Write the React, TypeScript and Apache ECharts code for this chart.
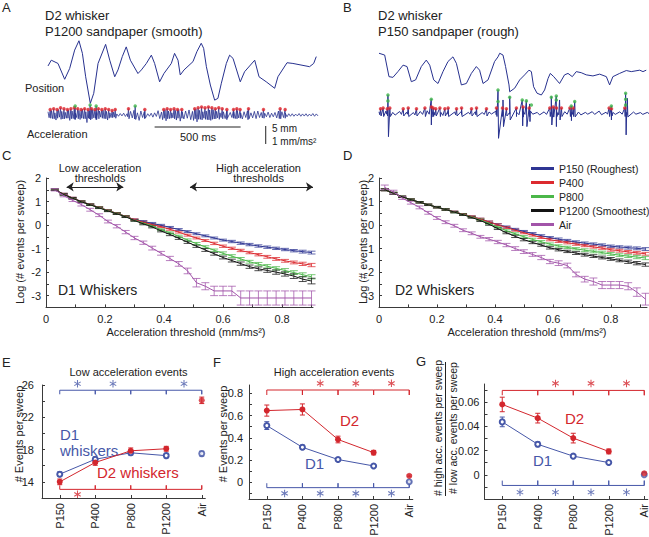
import React, { useEffect, useRef } from 'react';
import * as echarts from 'echarts';

const FONT = '"Liberation Sans", Arial, Helvetica, sans-serif';
const INK = '#222222';
const AXIS = '#3a3a3a';
const TRACE = '#27318f';
const EV_LOW = '#e1262c';
const EV_HIGH = '#3fb54a';
const C_D1 = '#4657a8';
const C_D2 = '#d3262d';

// ---------- Panel A (P1200, smooth) : position [ms, mm] ----------
const posA = [[0,10.4],[19,12.0],[58,11.1],[97,6.7],[126,9.7],[155,14.8],[180,17.4],[200,13.9],[219,7.4],[246,0],[266,2.8],[291,11.1],[335,16.4],[359,12.0],[388,7.4],[407,9.3],[432,13.0],[455,15.7],[479,12.0],[523,8.3],[543,9.3],[572,11.1],[601,13.4],[620,11.1],[649,6.0],[674,8.3],[717,11.1],[736,13.9],[756,12.0],[769,7.9],[791,9.3],[843,11.6],[866,14.4],[891,16.7],[905,15.3],[921,10.2],[944,5.1],[969,0.9],[988,1.4],[1008,5.6],[1037,11.1],[1056,13.4],[1076,12.5],[1118,6.0],[1143,8.8],[1202,12.0],[1227,7.4],[1269,6.0],[1318,4.2],[1337,7.4],[1390,11.3],[1424,11.1],[1521,10.2],[1545,11.1],[1560,13.0]];
// acceleration (mm/ms^2), one sample each 20 ms
const accAUp = [0.18,0.25,0.12,0.3,0.2,0.15,0.28,0.22,0.1,0.26,0.32,0.18,0.24,0.3,0.14,0.22,0.27,0.2,0.12,0.16,0.06,0.08,0.1,0.07,0.2,0.26,0.12,0.22,0.18,0.07,0.1,0.12,0.24,0.16,0.3,0.22,0.12,0.26,0.3,0.18,0.22,0.28,0.2,0.34,0.26,0.18,0.22,0.28,0.3,0.2,0.12,0.18,0.24,0.14,0.2,0.25,0.12,0.18,0.24,0.12,0.2,0.22,0.14,0.1,0.16,0.1,0.14,0.22,0.18,0.1,0.07,0.07,0.05,0.08,0.06,0.07,0.05,0.08,0.06];
const accADown = [-0.15,-0.2,-0.28,-0.12,-0.22,-0.18,-0.3,-0.2,-0.14,-0.25,-0.2,-0.42,-0.22,-0.16,-0.26,-0.12,-0.2,-0.28,-0.14,-0.12,-0.07,-0.05,-0.08,-0.1,-0.16,-0.22,-0.3,-0.14,-0.2,-0.07,-0.12,-0.08,-0.2,-0.26,-0.32,-0.2,-0.16,-0.28,-0.34,-0.22,-0.18,-0.26,-0.3,-0.38,-0.24,-0.18,-0.26,-0.3,-0.22,-0.16,-0.14,-0.2,-0.26,-0.14,-0.2,-0.16,-0.22,-0.14,-0.26,-0.16,-0.2,-0.14,-0.16,-0.1,-0.14,-0.1,-0.16,-0.2,-0.14,-0.1,-0.07,-0.07,-0.05,-0.07,-0.06,-0.07,-0.05,-0.07,-0.05];
const lowEventsA = [[10,0.3],[30,0.35],[50,0.3],[70,0.4],[90,0.35],[110,0.3],[130,0.35],[150,0.4],[170,0.35],[190,0.3],[210,0.35],[230,0.3],[250,0.35],[270,0.3],[290,0.35],[310,0.3],[330,0.35],[350,0.3],[370,0.25],[388,0.3],[465,0.35],[560,0.3],[670,0.3],[690,0.35],[710,0.3],[730,0.35],[750,0.3],[775,0.3],[850,0.35],[870,0.4],[890,0.45],[910,0.4],[930,0.45],[950,0.4],[970,0.35],[990,0.4],[1010,0.35],[1037,0.3],[1076,0.3],[1095,0.35],[1114,0.3],[1163,0.35],[1250,0.3],[1347,0.35],[1376,0.3]];
const highEventsA = [[155,0.5],[242,0.55],[277,0.5],[504,0.5]];

// ---------- Panel B (P150, rough) ----------
const posB = [[0,11.6],[33,11.1],[58,5.1],[81,4.9],[110,6.5],[140,8.3],[163,7.9],[188,3.7],[213,4.2],[246,7.9],[275,9.7],[295,8.3],[318,4.2],[343,3.2],[372,6.5],[401,9.3],[430,10.6],[450,8.8],[479,2.8],[508,3.2],[537,6.0],[566,7.9],[585,6.9],[605,3.2],[634,4.2],[672,9.3],[692,10.6],[702,11.6],[721,11.1],[736,7.9],[756,2.8],[760,0.9],[789,1.9],[818,4.2],[847,5.6],[872,6.9],[886,6.5],[899,2.3],[919,0.5],[944,0],[963,1.4],[983,4.6],[996,6.0],[1016,5.1],[1050,3.2],[1079,5.6],[1099,6.0],[1124,5.1],[1147,6.5],[1176,6.2],[1205,5.6],[1244,5.3],[1283,5.8],[1322,5.1],[1341,2.8],[1360,5.1],[1399,6.0],[1438,6.8],[1467,6.5],[1516,6.9],[1535,6.5],[1554,6.9]];
// background noise, one sample each 40 ms
const accBUp = [0.08,0.12,0.05,0.1,0.06,0.04,0.1,0.14,0.06,0.05,0.1,0.07,0.12,0.05,0.09,0.04,0.07,0.12,0.08,0.05,0.06,0.1,0.13,0.05,0.08,0.06,0.04,0.09,0.05,0.07,0.05,0.09,0.12,0.06,0.05,0.08,0.05,0.07,0.04,0.05];
const accBDown = [-0.08,-0.05,-0.1,-0.06,-0.05,-0.09,-0.06,-0.05,-0.1,-0.12,-0.05,-0.08,-0.06,-0.05,-0.09,-0.06,-0.04,-0.08,-0.12,-0.05,-0.08,-0.06,-0.05,-0.09,-0.06,-0.05,-0.08,-0.05,-0.06,-0.09,-0.05,-0.06,-0.08,-0.05,-0.06,-0.05,-0.08,-0.05,-0.06,-0.04];
const spikeBTime = [52,304,692,721,760,833,857,876,1002,1031,1050,1118,1138,1351,1434,1444];
const spikeBUp = [1.02,0.8,1.3,0.74,0.93,0.74,0.7,0.52,0.93,0.96,0.74,0.41,0.65,0.41,1.11,0.83];
const spikeBDown = [-1.3,-0.65,-1.39,-0.74,-0.37,-0.7,-0.74,-0.46,-0.65,-0.74,-0.37,-0.41,-0.2,-0.37,-1.2,-0.2];
const lowEventsB = [[8,0.25],[23,0.3],[47,0.25],[62,0.3],[140,0.25],[169,0.3],[217,0.25],[266,0.3],[304,0.35],[314,0.3],[329,0.25],[353,0.3],[382,0.25],[401,0.3],[450,0.25],[479,0.3],[537,0.25],[566,0.3],[624,0.25],[682,0.3],[717,0.3],[740,0.25],[798,0.3],[837,0.35],[872,0.3],[992,0.3],[1012,0.35],[1031,0.3],[1060,0.3],[1109,0.3],[1128,0.3],[1337,0.3],[1351,0.25],[1428,0.3]];
const highEventsB = [[52,1.02],[52,0.69],[304,0.78],[692,1.3],[692,0.65],[760,0.89],[833,0.74],[857,0.69],[886,0.46],[1002,0.89],[1031,0.96],[1031,0.74],[1118,0.41],[1138,0.65],[1351,0.41],[1434,1.11],[1434,0.78],[1434,0.46]];

// ---------- Panels C / D ----------
const CURVES = ['P150 (Roughest)', 'P400', 'P800', 'P1200 (Smoothest)', 'Air'];
const CURVE_COLORS = ['#2e3593', '#dc2a2f', '#4bb749', '#141414', '#a254a9'];

const threshC = [0.03,0.06,0.09,0.12,0.15,0.18,0.21,0.24,0.27,0.30,0.33,0.36,0.39,0.42,0.45,0.48,0.51,0.54,0.57,0.60,0.63,0.66,0.69,0.72,0.75,0.78,0.81,0.84,0.87,0.90];
const logC_P150 = [1.5,1.32,1.15,1.0,0.87,0.75,0.62,0.5,0.37,0.23,0.15,0.07,-0.01,-0.1,-0.19,-0.28,-0.37,-0.46,-0.55,-0.64,-0.7,-0.77,-0.83,-0.89,-0.94,-0.99,-1.04,-1.09,-1.13,-1.17];
const logC_P400 = [1.5,1.32,1.15,1.0,0.87,0.75,0.62,0.5,0.37,0.23,0.12,0.02,-0.07,-0.18,-0.3,-0.43,-0.55,-0.66,-0.78,-0.9,-0.99,-1.08,-1.17,-1.26,-1.35,-1.44,-1.52,-1.59,-1.65,-1.7];
const logC_P800 = [1.5,1.3,1.14,0.99,0.86,0.74,0.61,0.49,0.36,0.2,0.08,-0.04,-0.2,-0.33,-0.48,-0.64,-0.79,-0.93,-1.07,-1.2,-1.32,-1.44,-1.56,-1.66,-1.75,-1.84,-1.93,-2.02,-2.11,-2.2];
const logC_P1200 = [1.5,1.3,1.14,0.99,0.86,0.73,0.6,0.48,0.35,0.19,0.05,-0.08,-0.25,-0.4,-0.56,-0.73,-0.9,-1.06,-1.22,-1.38,-1.51,-1.64,-1.77,-1.86,-1.93,-2.0,-2.08,-2.17,-2.3,-2.38];
const logC_Air = [1.5,1.25,1.05,0.87,0.65,0.42,0.15,-0.05,-0.3,-0.55,-0.75,-0.98,-1.2,-1.42,-1.65,-1.95,-2.45,-2.6,-2.8,-2.8,-2.8,-3.1,-3.1,-3.1,-3.1,-3.1,-3.1,-3.1,-3.1,-3.1];
const errC_P150 = [0.03,0.03,0.03,0.03,0.03,0.03,0.03,0.03,0.03,0.03,0.04,0.04,0.04,0.04,0.04,0.04,0.04,0.04,0.04,0.04,0.05,0.05,0.05,0.05,0.05,0.05,0.05,0.05,0.06,0.06];
const errC_P400 = [0.03,0.03,0.03,0.03,0.03,0.03,0.03,0.03,0.03,0.03,0.04,0.04,0.04,0.04,0.04,0.04,0.04,0.04,0.05,0.05,0.05,0.05,0.05,0.05,0.06,0.06,0.06,0.06,0.07,0.07];
const errC_P800 = [0.03,0.03,0.03,0.03,0.03,0.03,0.03,0.03,0.03,0.03,0.04,0.04,0.04,0.04,0.05,0.05,0.05,0.05,0.05,0.06,0.06,0.06,0.06,0.07,0.07,0.07,0.08,0.08,0.08,0.09];
const errC_P1200 = [0.03,0.03,0.03,0.03,0.03,0.03,0.03,0.03,0.03,0.03,0.04,0.04,0.04,0.05,0.05,0.05,0.05,0.06,0.06,0.06,0.06,0.07,0.07,0.08,0.08,0.09,0.09,0.1,0.1,0.12];
const errC_Air = [0.05,0.05,0.05,0.06,0.06,0.06,0.06,0.07,0.07,0.07,0.07,0.08,0.08,0.09,0.1,0.12,0.18,0.15,0.2,0.2,0.2,0.3,0.3,0.3,0.3,0.3,0.3,0.3,0.3,0.3];

const threshD = [0.02,0.05,0.08,0.11,0.14,0.17,0.20,0.23,0.26,0.29,0.32,0.35,0.38,0.41,0.44,0.47,0.50,0.53,0.56,0.59,0.62,0.65,0.68,0.71,0.74,0.77,0.80,0.83,0.86,0.89,0.92];
const logD_P150 = [1.5,1.35,1.2,1.08,0.97,0.86,0.76,0.66,0.56,0.46,0.36,0.25,0.13,0.02,-0.08,-0.18,-0.27,-0.36,-0.45,-0.53,-0.6,-0.66,-0.72,-0.77,-0.81,-0.85,-0.9,-0.93,-0.96,-0.99,-1.02];
const logD_P400 = [1.5,1.35,1.2,1.08,0.97,0.86,0.76,0.66,0.56,0.46,0.36,0.25,0.13,0.01,-0.1,-0.22,-0.33,-0.43,-0.53,-0.62,-0.69,-0.75,-0.81,-0.87,-0.93,-0.98,-1.05,-1.09,-1.14,-1.18,-1.22];
const logD_P800 = [1.5,1.35,1.2,1.08,0.97,0.86,0.76,0.66,0.55,0.45,0.34,0.22,0.07,-0.09,-0.24,-0.37,-0.5,-0.61,-0.71,-0.81,-0.89,-0.95,-1.01,-1.07,-1.12,-1.17,-1.23,-1.28,-1.32,-1.36,-1.4];
const logD_P1200 = [1.5,1.35,1.2,1.08,0.97,0.86,0.76,0.66,0.55,0.44,0.32,0.19,0.03,-0.15,-0.33,-0.48,-0.62,-0.74,-0.85,-0.97,-1.05,-1.12,-1.19,-1.26,-1.32,-1.38,-1.44,-1.5,-1.56,-1.62,-1.68];
const logD_Air = [1.6,1.4,1.15,0.95,0.75,0.52,0.3,0.12,-0.03,-0.22,-0.35,-0.5,-0.6,-0.72,-0.85,-1.0,-1.13,-1.25,-1.38,-1.55,-1.62,-1.72,-2.1,-2.3,-2.4,-2.55,-2.55,-2.55,-2.6,-2.85,-3.15];
const errD_P150 = [0.04,0.04,0.03,0.03,0.03,0.03,0.03,0.03,0.03,0.03,0.03,0.04,0.04,0.04,0.04,0.04,0.04,0.04,0.04,0.04,0.05,0.05,0.05,0.05,0.05,0.05,0.05,0.05,0.06,0.06,0.06];
const errD_P400 = [0.04,0.04,0.03,0.03,0.03,0.03,0.03,0.03,0.03,0.03,0.03,0.04,0.04,0.04,0.04,0.04,0.04,0.04,0.04,0.05,0.05,0.05,0.05,0.05,0.05,0.05,0.06,0.06,0.06,0.06,0.06];
const errD_P800 = [0.04,0.04,0.03,0.03,0.03,0.03,0.03,0.03,0.03,0.03,0.03,0.04,0.04,0.04,0.04,0.04,0.05,0.05,0.05,0.05,0.05,0.05,0.05,0.06,0.06,0.06,0.06,0.06,0.06,0.07,0.07];
const errD_P1200 = [0.04,0.04,0.03,0.03,0.03,0.03,0.03,0.03,0.03,0.03,0.03,0.04,0.04,0.04,0.04,0.05,0.05,0.05,0.05,0.05,0.05,0.05,0.06,0.06,0.06,0.06,0.06,0.06,0.07,0.07,0.07];
const errD_Air = [0.1,0.08,0.06,0.06,0.06,0.06,0.06,0.06,0.06,0.06,0.06,0.06,0.07,0.07,0.07,0.08,0.08,0.08,0.09,0.09,0.1,0.1,0.1,0.12,0.15,0.15,0.15,0.15,0.15,0.18,0.25];

const TICKS_CD_X = [0,0.1,0.2,0.3,0.4,0.5,0.6,0.7,0.8,0.9];
const LABELS_CD_X = [0,0.2,0.4,0.6,0.8];
const TICKS_CD_Y = [-3.5,-3,-2.5,-2,-1.5,-1,-0.5,0,0.5,1,1.5,2];
const LABELS_CD_Y = [-3,-2,-1,0,1,2];

// ---------- Panels E / F / G ----------
const CATS = ['P150', 'P400', 'P800', 'P1200', 'Air'];
const CAT_POS = [1, 2, 3, 4, 5];
const E_D1 = [14.95, 16.8, 17.6, 17.25, 17.5];
const E_D1_err = [0.3, 0.3, 0.3, 0.3, 0.3];
const E_D2 = [14.0, 16.4, 17.85, 18.1, 24.1];
const E_D2_err = [0.35, 0.35, 0.35, 0.3, 0.4];
const F_D1 = [0.51, 0.315, 0.205, 0.147, 0.005];
const F_D1_err = [0.035, 0.02, 0.012, 0.008, 0.005];
const F_D2 = [0.645, 0.655, 0.385, 0.267, 0.058];
const F_D2_err = [0.05, 0.05, 0.03, 0.02, 0.008];
const G_D1 = [0.0437, 0.0252, 0.0154, 0.0101, 0.0001];
const G_D1_err = [0.004, 0.002, 0.001, 0.0006, 0.0004];
const G_D2 = [0.0581, 0.0468, 0.0303, 0.0193, 0.0012];
const G_D2_err = [0.006, 0.004, 0.004, 0.002, 0.001];
const E_topStars = [1.5, 2.5, 4.5];
const E_botStars = [1.5];
const F_topStars = [2.5, 3.5, 4.5];
const F_botStars = [1.5, 2.5, 3.5, 4.5];
const G_topStars = [2.5, 3.5, 4.5];
const G_botStars = [1.5, 2.5, 3.5, 4.5];

const STAR = 'path://M-0.7,-5L-0.7,5L0.7,5L0.7,-5Z M3.98,3.11L4.68,1.89L-3.98,-3.11L-4.68,-1.89Z M4.68,-1.89L3.98,-3.11L-4.68,1.89L-3.98,3.11Z';

function zigzag(events: { t: number; up: number; down: number; w: number }[]) {
  const ev = [...events].sort((a, b) => a.t - b.t);
  const out: number[][] = [];
  ev.forEach((e, i) => {
    const next = i < ev.length - 1 ? ev[i + 1].t : e.t + 2 * e.w;
    const dt = Math.min(e.w, (next - e.t) / 2);
    out.push([e.t, e.up]);
    out.push([e.t + dt, e.down]);
  });
  return out;
}

function errRender(cap: number, color: string, opacity: number) {
  return (params: any, api: any) => {
    const x = api.value(0), y = api.value(1), e = api.value(2);
    const p1 = api.coord([x, y + e]);
    const p2 = api.coord([x, y - e]);
    const st = { stroke: color, lineWidth: 1, opacity };
    return {
      type: 'group',
      children: [
        { type: 'line', shape: { x1: p1[0], y1: p1[1], x2: p2[0], y2: p2[1] }, style: st },
        { type: 'line', shape: { x1: p1[0] - cap, y1: p1[1], x2: p1[0] + cap, y2: p1[1] }, style: st },
        { type: 'line', shape: { x1: p2[0] - cap, y1: p2[1], x2: p2[0] + cap, y2: p2[1] }, style: st },
      ],
    };
  };
}

function errSeries(idx: number, xs: number[], ys: number[], es: number[], color: string, cap: number, opacity = 1) {
  return {
    type: 'custom', name: 'err', xAxisIndex: idx, yAxisIndex: idx, silent: true,
    data: xs.map((x, i) => [x, ys[i], es[i]]),
    encode: { x: 0, y: 1 },
    renderItem: errRender(cap, color, opacity),
    z: 2,
  };
}

function bracket(level: number, tick: number) {
  const pts: number[][] = [];
  CAT_POS.forEach((c, i) => {
    if (i > 0) pts.push([c, level]);
    pts.push([c, level + tick]);
    pts.push([c, level]);
  });
  return pts;
}

function hiddenAxes(idx: number, xmin: number, xmax: number, ymin: number, ymax: number) {
  return {
    x: { type: 'value', gridIndex: idx, min: xmin, max: xmax, show: false },
    y: { type: 'value', gridIndex: idx, min: ymin, max: ymax, show: false },
  };
}

function visAxis(idx: number, min: number, max: number, ticks: number[], labels: number[], fmt: (v: number) => string, margin: number, rotate = 0) {
  return {
    type: 'value', gridIndex: idx, min, max,
    axisLine: { show: true, onZero: false, lineStyle: { color: AXIS, width: 1 } },
    axisTick: { show: true, inside: true, length: 3, customValues: ticks, lineStyle: { color: AXIS, width: 1 } },
    axisLabel: { show: true, customValues: labels, formatter: fmt, margin, rotate, color: INK, fontSize: 11, fontFamily: FONT },
    splitLine: { show: false },
  };
}

function txt(text: string, x: number, y: number, size: number, opts: any = {}) {
  const align = opts.align || 'left';
  return {
    type: 'text', x, y, rotation: opts.rot || 0, silent: true,
    style: {
      text, fill: opts.color || INK, fontSize: size, fontFamily: FONT,
      align, verticalAlign: 'middle', textAlign: align, textVerticalAlign: 'middle',
    },
  };
}

function buildOption() {
  const grids = [
    { left: 48, top: 35, width: 270, height: 72 },
    { left: 48, top: 95, width: 270, height: 50 },
    { left: 379, top: 35, width: 270, height: 72 },
    { left: 379, top: 85, width: 270, height: 60 },
    { left: 46, top: 178, width: 267, height: 129.4 },
    { left: 379, top: 178, width: 268, height: 129.4 },
    { left: 42, top: 385, width: 163.3, height: 113 },
    { left: 249, top: 385, width: 163.8, height: 114 },
    { left: 484.5, top: 384, width: 163.3, height: 115 },
  ].map((g) => ({ ...g, containLabel: false, outerBoundsMode: 'none', show: false }));

  const hA = hiddenAxes(0, 0, 1570, -1, 19);
  const hAa = hiddenAxes(1, 0, 1570, -1.667, 1.111);
  const hB = hiddenAxes(2, 0, 1570, -3.33, 16.67);
  const hBa = hiddenAxes(3, 0, 1570, -1.761, 1.572);

  const fmt1 = (v: number) => (v === 0 ? '0' : String(+v.toFixed(3)));
  const fmtCat = (v: number) => CATS[Math.round(v) - 1] || '';

  const xAxes: any[] = [
    hA.x, hAa.x, hB.x, hBa.x,
    visAxis(4, 0, 0.905, TICKS_CD_X, LABELS_CD_X, fmt1, 6),
    visAxis(5, 0, 0.925, TICKS_CD_X, LABELS_CD_X, fmt1, 6),
    visAxis(6, 0.5, 5.1, CAT_POS, CAT_POS, fmtCat, 5, 90),
    visAxis(7, 0.5, 5.1, CAT_POS, CAT_POS, fmtCat, 5, 90),
    visAxis(8, 0.5, 5.1, CAT_POS, CAT_POS, fmtCat, 5, 90),
  ];
  const yAxes: any[] = [
    hA.y, hAa.y, hB.y, hBa.y,
    visAxis(4, -3.5, 2, TICKS_CD_Y, LABELS_CD_Y, fmt1, 5),
    visAxis(5, -3.5, 2, TICKS_CD_Y, LABELS_CD_Y, fmt1, 5),
    visAxis(6, 12, 26, [12, 14, 16, 18, 20, 22, 24, 26], [14, 18, 22, 26], fmt1, 8),
    visAxis(7, -0.15, 0.875, [-0.1, 0, 0.1, 0.2, 0.3, 0.4, 0.5, 0.6, 0.7, 0.8], [0, 0.2, 0.4, 0.6, 0.8], fmt1, 6),
    visAxis(8, -0.02, 0.075, [-0.01, 0, 0.01, 0.02, 0.03, 0.04, 0.05, 0.06, 0.07], [0, 0.02, 0.04, 0.06], fmt1, 5),
  ];

  const series: any[] = [];
  const lineS = (idx: number, data: number[][], color: string, width: number, extra: any = {}) => ({
    type: 'line', xAxisIndex: idx, yAxisIndex: idx, data, symbol: 'none', silent: true,
    lineStyle: { color, width }, itemStyle: { color }, ...extra,
  });
  const dotS = (idx: number, data: number[][], color: string, size: number) => ({
    type: 'scatter', xAxisIndex: idx, yAxisIndex: idx, data, symbol: 'circle', symbolSize: size, silent: true,
    itemStyle: { color }, z: 4, clip: false,
  });

  // Panel A
  series.push(lineS(0, posA, TRACE, 1));
  const evA = accAUp.map((u, i) => ({ t: i * 20, up: u, down: accADown[i], w: 10 }))
    .concat(lowEventsA.map(([t, a]) => ({ t: t + 3, up: a, down: -a * 0.6, w: 3 })))
    .concat(highEventsA.map(([t, a]) => ({ t: t + 3, up: a, down: -a * 0.5, w: 3 })));
  series.push(lineS(1, zigzag(evA), TRACE, 0.8, { clip: false }));
  series.push(dotS(1, lowEventsA.map(([t, a]) => [t + 3, a]), EV_LOW, 3.5));
  series.push(dotS(1, highEventsA.map(([t, a]) => [t + 3, a]), EV_HIGH, 3.5));
  series.push(lineS(1, [[620, -0.667], [1120, -0.667]], INK, 1, { clip: false }));
  series.push(lineS(1, [[1266, -0.611], [1266, -1.611]], INK, 1, { clip: false }));

  // Panel B
  series.push(lineS(2, posB, TRACE, 1));
  const evB = accBUp.map((u, i) => ({ t: i * 40, up: u, down: accBDown[i], w: 14 }))
    .concat(spikeBTime.map((t, i) => ({ t, up: spikeBUp[i], down: spikeBDown[i], w: 3 })))
    .concat(lowEventsB.map(([t, a]) => ({ t: t + 1, up: a, down: -a * 0.6, w: 3 })));
  series.push(lineS(3, zigzag(evB), TRACE, 1, { clip: false }));
  series.push(dotS(3, lowEventsB.map(([t, a]) => [t + 1, a]), EV_LOW, 3.5));
  series.push(dotS(3, highEventsB, EV_HIGH, 3.5));

  // Panels C and D
  const cVals = [logC_P150, logC_P400, logC_P800, logC_P1200, logC_Air];
  const cErr = [errC_P150, errC_P400, errC_P800, errC_P1200, errC_Air];
  const dVals = [logD_P150, logD_P400, logD_P800, logD_P1200, logD_Air];
  const dErr = [errD_P150, errD_P400, errD_P800, errD_P1200, errD_Air];
  CURVES.forEach((name, k) => {
    const col = CURVE_COLORS[k];
    const cs: any = lineS(4, threshC.map((x, i) => [x, cVals[k][i]]), col, 1, { name, z: 3 });
    if (k === 0) {
      cs.markLine = {
        silent: true, symbol: ['arrow', 'arrow'], symbolSize: 7,
        lineStyle: { color: INK, width: 1, type: 'solid' }, label: { show: false },
        data: [
          [{ coord: [0.07, 1.62] }, { coord: [0.262, 1.62] }],
          [{ coord: [0.488, 1.62] }, { coord: [0.905, 1.62] }],
        ],
      };
    }
    series.push(cs);
    series.push(errSeries(4, threshC, cVals[k], cErr[k], col, 4, 0.75));
    series.push(lineS(5, threshD.map((x, i) => [x, dVals[k][i]]), col, 1, { name, z: 3 }));
    series.push(errSeries(5, threshD, dVals[k], dErr[k], col, 4, 0.75));
  });

  // Panels E, F, G
  const panel = (idx: number, d1: number[], d1e: number[], d2: number[], d2e: number[],
    topColor: string, topLevel: number, topTick: number, topStars: number[], topStarY: number,
    botColor: string, botLevel: number, botTick: number, botStars: number[], botStarY: number) => {
    series.push(lineS(idx, bracket(topLevel, topTick), topColor, 1));
    series.push(lineS(idx, bracket(botLevel, botTick), botColor, 1));
    series.push({ type: 'scatter', xAxisIndex: idx, yAxisIndex: idx, data: topStars.map((x) => [x, topStarY]), symbol: STAR, symbolSize: [7, 7.5], itemStyle: { color: topColor }, clip: false, silent: true });
    series.push({ type: 'scatter', xAxisIndex: idx, yAxisIndex: idx, data: botStars.map((x) => [x, botStarY]), symbol: STAR, symbolSize: [7, 7.5], itemStyle: { color: botColor }, clip: false, silent: true });
    series.push(errSeries(idx, CAT_POS, d1, d1e, C_D1, 2.5));
    series.push(lineS(idx, CAT_POS.slice(0, 4).map((c, i) => [c, d1[i]]), C_D1, 1, { symbol: 'emptyCircle', symbolSize: 5, showSymbol: true, z: 4 }));
    series.push({ type: 'scatter', xAxisIndex: idx, yAxisIndex: idx, data: [[CAT_POS[4], d1[4]]], symbol: 'emptyCircle', symbolSize: 5, itemStyle: { color: C_D1 }, silent: true, z: 4 });
    series.push(errSeries(idx, CAT_POS, d2, d2e, C_D2, 2.5));
    series.push(lineS(idx, CAT_POS.slice(0, 4).map((c, i) => [c, d2[i]]), C_D2, 1, { symbol: 'circle', symbolSize: 6, showSymbol: true, z: 5 }));
    series.push({ type: 'scatter', xAxisIndex: idx, yAxisIndex: idx, data: [[CAT_POS[4], d2[4]]], symbol: 'circle', symbolSize: 6, itemStyle: { color: C_D2 }, silent: true, z: 5 });
  };
  panel(6, E_D1, E_D1_err, E_D2, E_D2_err, C_D1, 25.35, -0.5, E_topStars, 26.15, C_D2, 13.07, 0.5, E_botStars, 12.45);
  panel(7, F_D1, F_D1_err, F_D2, F_D2_err, C_D2, 0.83, -0.045, F_topStars, 0.89, C_D1, -0.048, 0.04, F_botStars, -0.1);
  panel(8, G_D1, G_D1_err, G_D2, G_D2_err, C_D2, 0.0697, -0.004, G_topStars, 0.0755, C_D1, -0.0088, 0.004, G_botStars, -0.0144);

  const R = Math.PI / 2;
  const graphics: any[] = [
    txt('A', 2, 7, 13), txt('B', 343, 7, 13), txt('C', 2, 155, 13), txt('D', 343, 155, 13),
    txt('E', 2, 362, 13), txt('F', 213, 362, 13), txt('G', 416, 361, 13),
    txt('D2 whisker', 45, 15, 13), txt('P1200 sandpaper (smooth)', 45, 31.5, 13),
    txt('D2 whisker', 378, 15, 13), txt('P150 sandpaper (rough)', 378, 31.5, 13),
    txt('Position', 25, 88, 11), txt('Acceleration', 27, 134, 11),
    txt('500 ms', 198, 137, 11, { align: 'center' }),
    txt('5 mm', 272, 128, 10), txt('1 mm/ms²', 272, 141, 10),
    txt('Low acceleration', 100, 167.5, 11, { align: 'center' }), txt('thresholds', 100, 178, 11, { align: 'center' }),
    txt('High acceleration', 258.5, 167.5, 11, { align: 'center' }), txt('thresholds', 258.5, 178, 11, { align: 'center' }),
    txt('D1 Whiskers', 58, 290, 14), txt('D2 Whiskers', 395, 290, 14),
    txt('Acceleration threshold (mm/ms²)', 186, 332, 11, { align: 'center' }),
    txt('Acceleration threshold (mm/ms²)', 527, 332, 11, { align: 'center' }),
    txt('Log (# events per sweep)', 20, 242, 11, { align: 'center', rot: R }),
    txt('Log (# events per sweep)', 362.5, 242, 11, { align: 'center', rot: R }),
    txt('Low acceleration events', 128.5, 372, 11, { align: 'center' }),
    txt('High acceleration events', 334, 372, 11, { align: 'center' }),
    txt('# Events per sweep', 18.5, 434, 11, { align: 'center', rot: R }),
    txt('# Events per sweep', 223, 434, 11, { align: 'center', rot: R }),
    txt('D1', 60, 434, 15, { color: C_D1 }), txt('whiskers', 60, 450, 15, { color: C_D1 }),
    txt('D2 whiskers', 97, 472.5, 15, { color: C_D2 }),
    txt('D2', 340, 420, 15, { color: C_D2 }), txt('D1', 305, 463, 15, { color: C_D1 }),
    txt('D2', 565, 418, 15, { color: C_D2 }), txt('D1', 533, 460, 15, { color: C_D1 }),
    txt('# high acc. events per sweep', 438, 428, 10.5, { align: 'center', rot: R }),
    txt('# low acc. events per sweep', 453, 428, 10.5, { align: 'center', rot: R }),
    { type: 'line', silent: true, shape: { x1: 445.5, y1: 362, x2: 445.5, y2: 496 }, style: { stroke: INK, lineWidth: 1 } },
  ];

  return {
    animation: false,
    backgroundColor: '#ffffff',
    textStyle: { fontFamily: FONT },
    grid: grids,
    xAxis: xAxes,
    yAxis: yAxes,
    legend: {
      data: CURVES, orient: 'vertical', left: 526, top: 157, itemWidth: 23, itemHeight: 3, itemGap: 1,
      icon: 'rect', selectedMode: false,
      textStyle: { fontSize: 10.5, fontFamily: FONT, color: INK, lineHeight: 13 },
    },
    series,
    graphic: { elements: graphics },
  };
}

export default function App() {
  const ref = useRef<HTMLDivElement>(null);
  useEffect(() => {
    document.body.style.margin = '0';
    const chart = echarts.init(ref.current!, undefined, { renderer: 'svg', width: 649, height: 537 });
    chart.setOption(buildOption() as any);
    return () => chart.dispose();
  }, []);
  return <div ref={ref} style={{ width: 649, height: 537, position: 'absolute', left: 0, top: 0, background: '#fff' }} />;
}
